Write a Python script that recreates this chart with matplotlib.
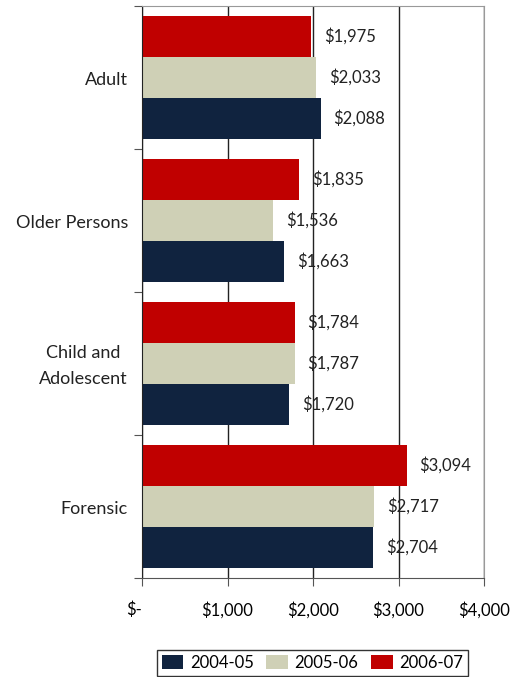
import numpy as np
import matplotlib.pyplot as plt
from matplotlib.patches import Patch

plt.rcParams['font.family'] = ['Lato', 'DejaVu Sans']

categories = ['Adult', 'Older Persons', 'Child and\nAdolescent', 'Forensic']
years = ['2004-05', '2005-06', '2006-07']
costs = {
    '2004-05': [2088, 1663, 1720, 2704],
    '2005-06': [2033, 1536, 1787, 2717],
    '2006-07': [1975, 1835, 1784, 3094],
}
colors = {'2004-05': '#10233F', '2005-06': '#CFD0B6', '2006-07': '#C00000'}

fig = plt.figure(figsize=(5.19, 6.77), dpi=100)
ax = fig.add_axes([0.2736, 0.1462, 0.659, 0.845])

# first category on top
pos = np.arange(len(categories))[::-1]
h = 0.287
offsets = {'2004-05': -h, '2005-06': 0.0, '2006-07': h}

for yr in years:
    ys = pos + offsets[yr]
    ax.barh(ys, costs[yr], height=h, color=colors[yr], zorder=2)
    for y, v in zip(ys, costs[yr]):
        ax.text(v + 150, y, f'${v:,}', va='center', ha='left', fontsize=12,
                color='#222222', zorder=3)

ax.set_xlim(0, 4000)
ax.set_ylim(-0.5, len(categories) - 0.5)

ax.set_xticks([0, 1000, 2000, 3000, 4000])
ax.set_xticklabels(['$-', '$1,000', '$2,000', '$3,000', '$4,000'], fontsize=12)
ax.get_xticklabels()[0].set_horizontalalignment('right')
ax.tick_params(axis='x', length=6, pad=11, color='#555555')

# boundary ticks between categories, labels centred without ticks
ax.set_yticks(np.arange(-0.5, len(categories), 1.0))
ax.set_yticklabels([])
ax.tick_params(axis='y', length=6, color='#555555')
for p, c in zip(pos, categories):
    ax.text(-0.041, p - 0.02, c, transform=ax.get_yaxis_transform(), ha='right',
            multialignment='center', va='center', fontsize=13,
            color='#222222', linespacing=1.75)

ax.xaxis.grid(True, color='#222222', linewidth=1, zorder=1)
ax.set_axisbelow(True)
for side in ['top', 'right']:
    ax.spines[side].set_color('#999999')
ax.spines['bottom'].set_color('#555555')
ax.spines['left'].set_color('#222222')

handles = [Patch(facecolor=colors[yr], label=yr) for yr in years]
leg = fig.legend(handles=handles, loc='lower center', ncol=3,
                 bbox_to_anchor=(0.602, -0.011), fontsize=12, frameon=True,
                 fancybox=False, edgecolor='black', handlelength=1.3,
                 handleheight=0.9, handletextpad=0.4, columnspacing=0.75,
                 borderpad=0.3)
leg.get_frame().set_linewidth(1)

fig.savefig('out.png', dpi=100)
